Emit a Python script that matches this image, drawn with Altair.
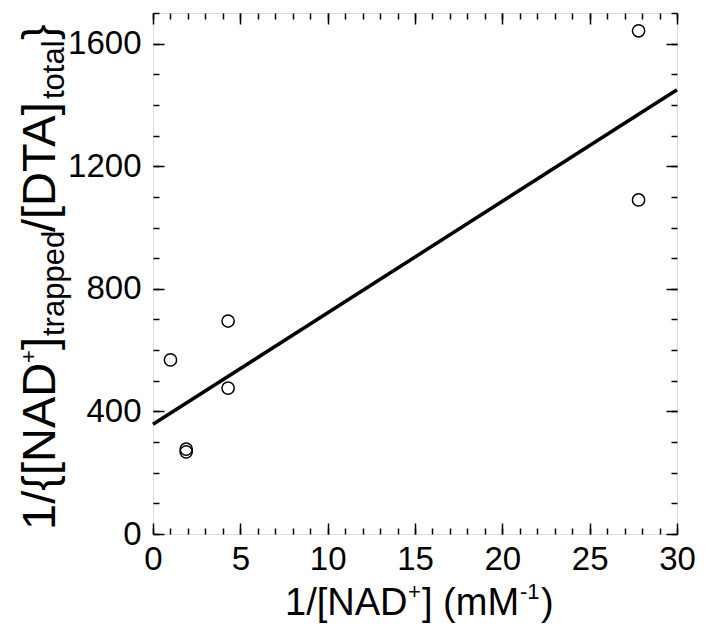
import altair as alt
import pandas as pd

# data
x_vals = [1.0, 1.9, 1.9, 4.3, 4.3, 27.8, 27.8]
y_vals = [568, 277, 268, 476, 695, 1642, 1090]

x_major = [0, 5, 10, 15, 20, 25, 30]
x_minor = list(range(0, 31))
y_major = [0, 400, 800, 1200, 1600]
y_minor = list(range(0, 1701, 100))

df = pd.DataFrame({"x": x_vals, "y": y_vals})

TICK_FONT = "Liberation Sans Narrow, Arial Narrow, Liberation Sans, sans-serif"
TITLE_FONT = "Liberation Sans, Arial, Helvetica, sans-serif"

W, H = 524, 521
xs = alt.Scale(domain=[0, 30], nice=False, zero=False)
ys = alt.Scale(domain=[0, 1700], nice=False, zero=False)


def axis(orient, values, size, labels):
    kw = dict(
        orient=orient, values=values, tickSize=size, offset=-size,
        domain=False, grid=False, title=None, labels=labels,
        tickColor="black", tickWidth=1.5,
    )
    if labels:
        kw.update(labelFont=TICK_FONT, labelFontSize=33, labelColor="black",
                  labelPadding=12 if orient == "left" else 9, format="d",
                  labelFlush=False, labelOverlap=False)
    return alt.Axis(**kw)


base = alt.Chart(df)

points = base.mark_point(
    shape="circle", size=150, filled=False, color="black",
    strokeWidth=1.5, opacity=1
).encode(
    x=alt.X("x:Q", scale=xs, axis=axis("bottom", x_major, 11, True)),
    y=alt.Y("y:Q", scale=ys, axis=axis("left", y_major, 11, True)),
)

fit = base.transform_regression("x", "y", extent=[0, 30]).mark_line(
    color="black", strokeWidth=3.5
).encode(
    x=alt.X("x:Q", scale=xs, axis=axis("top", x_major, 11, False)),
    y=alt.Y("y:Q", scale=ys, axis=axis("right", y_major, 11, False)),
)

minor1 = base.mark_point(opacity=0).encode(
    x=alt.X("x:Q", scale=xs, axis=axis("bottom", x_minor, 6, False)),
    y=alt.Y("y:Q", scale=ys, axis=axis("left", y_minor, 6, False)),
)
minor2 = base.mark_point(opacity=0).encode(
    x=alt.X("x:Q", scale=xs, axis=axis("top", x_minor, 6, False)),
    y=alt.Y("y:Q", scale=ys, axis=axis("right", y_minor, 6, False)),
)


def seg(text, x, y, size, angle=0):
    return alt.Chart(pd.DataFrame({"t": [text]})).mark_text(
        align="left", baseline="alphabetic", fontSize=size,
        font=TITLE_FONT, angle=angle, color="black"
    ).encode(text="t:N", x=alt.value(x), y=alt.value(y))


# y-axis title: 1/{[NAD+]trapped/[DTA]total}
ytitle = [
    seg("1/{[NAD", -98, 517, 47, 270),
    seg("+", -117, 350, 22, 270),
    seg("]", -98, 337, 47, 270),
    seg("trapped", -89, 323, 31, 270),
    seg("/[DTA]", -98, 219, 47, 270),
    seg("total", -89, 86, 31, 270),
    seg("}", -98, 27, 47, 270),
]

# x-axis title: 1/[NAD+] (mM-1)
xtitle = [
    seg("1/[NAD", 132, 602, 38),
    seg("+", 255, 586, 22),
    seg("] (mM", 269, 602, 38),
    seg("-1", 367, 586, 22),
    seg(")", 388, 602, 38),
]

chart = alt.layer(points, fit, minor1, minor2, *ytitle, *xtitle).resolve_axis(
    x="independent", y="independent"
).properties(
    width=W, height=H,
    autosize=alt.AutoSizeParams(type="none"),
    padding={"left": 145, "top": 5, "right": 20, "bottom": 90},
).configure_view(
    stroke="black", strokeWidth=1.5
).configure(background="white")

chart.save("out.html", embed_options={"renderer": "svg", "actions": False})
